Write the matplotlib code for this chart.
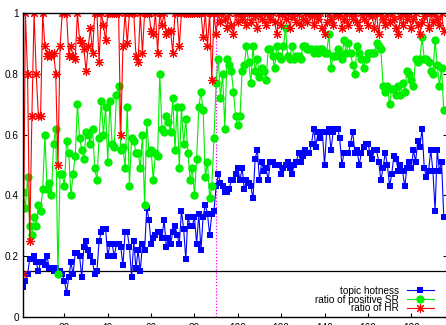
import numpy as np
import matplotlib
matplotlib.use("Agg")
import matplotlib.pyplot as plt
from matplotlib.ticker import FormatStrFormatter

plt.rcParams['font.family'] = ['Liberation Sans', 'DejaVu Sans']

# ---- data (index = time step, starting at 1) ----
topic_hotness = [
    0.10, 0.12, 0.14, 0.19, 0.19, 0.20, 0.18, 0.15, 0.18, 0.18,
    0.17, 0.20, 0.16, 0.16, 0.15, 0.16, 0.14, 0.15, 0.14, 0.12,
    0.08, 0.13, 0.18, 0.14, 0.21, 0.21, 0.20, 0.13, 0.23, 0.25,
    0.22, 0.20, 0.18, 0.14, 0.15, 0.25, 0.28, 0.29, 0.29, 0.20,
    0.24, 0.24, 0.20, 0.24, 0.24, 0.23, 0.17, 0.28, 0.28, 0.23,
    0.13, 0.25, 0.16, 0.22, 0.15, 0.24, 0.22, 0.36, 0.32, 0.24,
    0.26, 0.27, 0.28, 0.28, 0.26, 0.32, 0.23, 0.26, 0.24, 0.28,
    0.30, 0.27, 0.24, 0.35, 0.29, 0.19, 0.33, 0.30, 0.30, 0.33,
    0.24, 0.34, 0.22, 0.33, 0.37, 0.34, 0.27, 0.34, 0.35, 0.43,
    0.47, 0.44, 0.43, 0.41, 0.41, 0.42, 0.45, 0.45, 0.47, 0.49,
    0.45, 0.49, 0.42, 0.45, 0.44, 0.43, 0.39, 0.52, 0.55, 0.45,
    0.51, 0.48, 0.49, 0.45, 0.51, 0.51, 0.50, 0.50, 0.50, 0.47,
    0.49, 0.50, 0.51, 0.49, 0.47, 0.50, 0.51, 0.54, 0.51, 0.53,
    0.55, 0.54, 0.54, 0.57, 0.62, 0.56, 0.61, 0.59, 0.61, 0.50,
    0.61, 0.62, 0.55, 0.61, 0.62, 0.62, 0.59, 0.50, 0.54, 0.54,
    0.54, 0.57, 0.61, 0.54, 0.55, 0.50, 0.54, 0.56, 0.57, 0.57,
    0.54, 0.52, 0.55, 0.55, 0.51, 0.45, 0.49, 0.54, 0.50, 0.43,
    0.47, 0.53, 0.52, 0.48, 0.50, 0.48, 0.43, 0.49, 0.51, 0.49,
    0.55, 0.51, 0.58, 0.56, 0.62, 0.49, 0.46, 0.48, 0.55, 0.48,
    0.35, 0.55, 0.48, 0.51, 0.33,
]

positive_sr = [
    0.41, 0.36, 0.46, 0.30, 0.27, 0.33, 0.30, 0.37, 0.35, 0.42,
    0.60, 0.42, 0.44, 0.40, 0.57, 0.62, 0.14, 0.47, 0.47, 0.43,
    0.58, 0.54, 0.40, 0.47, 0.53, 0.70, 0.59, 0.55, 0.52, 0.61,
    0.60, 0.57, 0.62, 0.49, 0.45, 0.59, 0.71, 0.60, 0.69, 0.51,
    0.71, 0.57, 0.56, 0.73, 0.76, 0.55, 0.56, 0.49, 0.69, 0.43,
    0.59, 0.58, 0.54, 0.54, 0.49, 0.60, 0.37, 0.64, 0.54, 0.55,
    0.45, 0.54, 0.53, 0.80, 0.62, 0.61, 0.66, 0.64, 0.61, 0.72,
    0.55, 0.69, 0.49, 0.69, 0.57, 0.65, 0.54, 0.45, 0.49, 0.40,
    0.52, 0.69, 0.74, 0.68, 0.46, 0.51, 0.39, 0.43, 0.59, 0.77,
    0.85, 0.72, 0.80, 0.62, 0.85, 0.83, 0.81, 0.74, 0.66, 0.63,
    0.66, 0.81, 0.83, 0.89, 0.84, 0.77, 0.89, 0.81, 0.85, 0.79,
    0.82, 0.81, 0.78, 0.88, 0.88, 0.86, 0.82, 0.89, 0.86, 0.85,
    0.89, 0.95, 0.86, 0.85, 0.89, 0.85, 0.86, 0.86, 0.85, 0.89,
    0.89, 0.88, 0.88, 0.88, 0.87, 0.88, 0.87, 0.88, 0.88, 0.87,
    0.87, 0.93, 0.82, 0.86, 0.86, 0.88, 0.86, 0.85, 0.91, 0.87,
    0.90, 0.87, 0.83, 0.80, 0.89, 0.87, 0.85, 0.82, 0.85, 0.87,
    0.87, 0.87, 0.87, 0.90, 0.89, 0.88, 0.76, 0.74, 0.76, 0.70,
    0.75, 0.75, 0.73, 0.76, 0.73, 0.77, 0.74, 0.81, 0.80, 0.78,
    0.76, 0.85, 0.84, 0.85, 0.92, 0.85, 0.85, 0.84, 0.81, 0.80,
    0.91, 0.83, 0.76, 0.82, 0.68,
]

hr_ratio = [
    0.14, 1.00, 0.80, 0.25, 0.66, 1.00, 0.80, 0.66, 0.66, 1.00,
    0.89, 0.86, 0.87, 0.86, 0.87, 0.80, 0.50, 0.89, 1.00, 1.00,
    1.00, 0.86, 0.89, 0.86, 0.85, 1.00, 0.91, 0.90, 0.88, 0.81,
    0.89, 0.95, 0.87, 1.00, 1.00, 0.84, 1.00, 0.96, 0.91, 1.00,
    1.00, 1.00, 1.00, 1.00, 1.00, 0.60, 0.89, 1.00, 0.90, 1.00,
    1.00, 1.00, 0.86, 0.84, 1.00, 0.87, 1.00, 1.00, 1.00, 0.94,
    0.93, 1.00, 0.87, 1.00, 0.96, 1.00, 0.93, 0.94, 0.94, 0.87,
    1.00, 1.00, 0.89, 1.00, 1.00, 1.00, 1.00, 1.00, 1.00, 1.00,
    1.00, 1.00, 1.00, 0.92, 1.00, 0.89, 1.00, 0.78, 1.00, 0.93,
    1.00, 0.97, 1.00, 0.98, 0.95, 1.00, 0.96, 0.93, 1.00, 0.97,
    1.00, 0.98, 1.00, 0.96, 1.00, 0.97, 1.00, 0.99, 0.95, 1.00,
    0.98, 1.00, 0.96, 1.00, 0.98, 1.00, 0.97, 0.93, 1.00, 0.96,
    1.00, 0.98, 1.00, 0.95, 0.99, 1.00, 0.97, 1.00, 0.96, 0.98,
    1.00, 0.97, 1.00, 0.99, 0.96, 1.00, 0.98, 1.00, 0.95, 0.93,
    0.97, 1.00, 0.98, 0.96, 1.00, 0.99, 1.00, 0.95, 0.98, 1.00,
    0.96, 1.00, 0.98, 1.00, 0.97, 0.95, 1.00, 0.98, 1.00, 0.96,
    1.00, 0.99, 0.95, 1.00, 0.93, 1.00, 0.98, 0.96, 1.00, 0.97,
    1.00, 0.98, 0.95, 0.93, 0.99, 0.96, 1.00, 0.98, 1.00, 0.95,
    0.98, 1.00, 0.96, 0.93, 0.97, 0.99, 1.00, 0.95, 1.00, 0.97,
    1.00, 0.98, 0.96, 1.00, 0.94,
]

threshold = 0.15
split_step = 90
series_labels = ["topic hotness", "ratio of positive SR", "ratio of HR"]

# ---- figure ----
fig = plt.figure(figsize=(4.46, 3.25), dpi=100)
ax = fig.add_axes([23 / 446, 8 / 325, 424 / 446, 304 / 325])

def steps(vals):
    return np.arange(1, len(vals) + 1)

ax.plot(steps(topic_hotness), topic_hotness, color='#0000ff', lw=0.8,
        marker='s', ms=5, mec='#0000ff', mew=0, label=series_labels[0])
ax.plot(steps(positive_sr), positive_sr, color='#00ee00', lw=0.8,
        marker='o', ms=6, mec='#00ee00', mew=0, label=series_labels[1])
ax.plot(steps(hr_ratio), hr_ratio, color='#ff0000', lw=0.8,
        marker=(8, 2, 0), ms=6.5, mec='#ff0000', mew=0.8, label=series_labels[2])

ax.axhline(threshold, color='black', lw=0.9, zorder=1)
ax.axvline(split_step, color='#ff00ff', lw=0.9, ls=(0, (1, 1.5)), zorder=1)

ax.set_xlim(0.9, 196.5)
ax.set_ylim(0, 1)
ax.set_xticks(np.arange(20, 200, 20))
ax.set_yticks(np.arange(0, 1.01, 0.2))
ax.yaxis.set_major_formatter(FormatStrFormatter('%g'))
ax.tick_params(direction='in', length=3, width=0.8, labelsize=7.2,
               top=True, right=True, pad=3)
ax.tick_params(axis='x', pad=4)
for s in ax.spines.values():
    s.set_linewidth(1.0)

leg = ax.legend(loc='lower right', bbox_to_anchor=(0.969, 0.012),
                frameon=False, fontsize=7.2, markerfirst=False,
                handlelength=2.7, handletextpad=0.8, labelspacing=-0.12,
                borderpad=0, borderaxespad=0, numpoints=1)
for t in leg.get_texts():
    t.set_ha('right')

fig.savefig("out.png", dpi=100)
